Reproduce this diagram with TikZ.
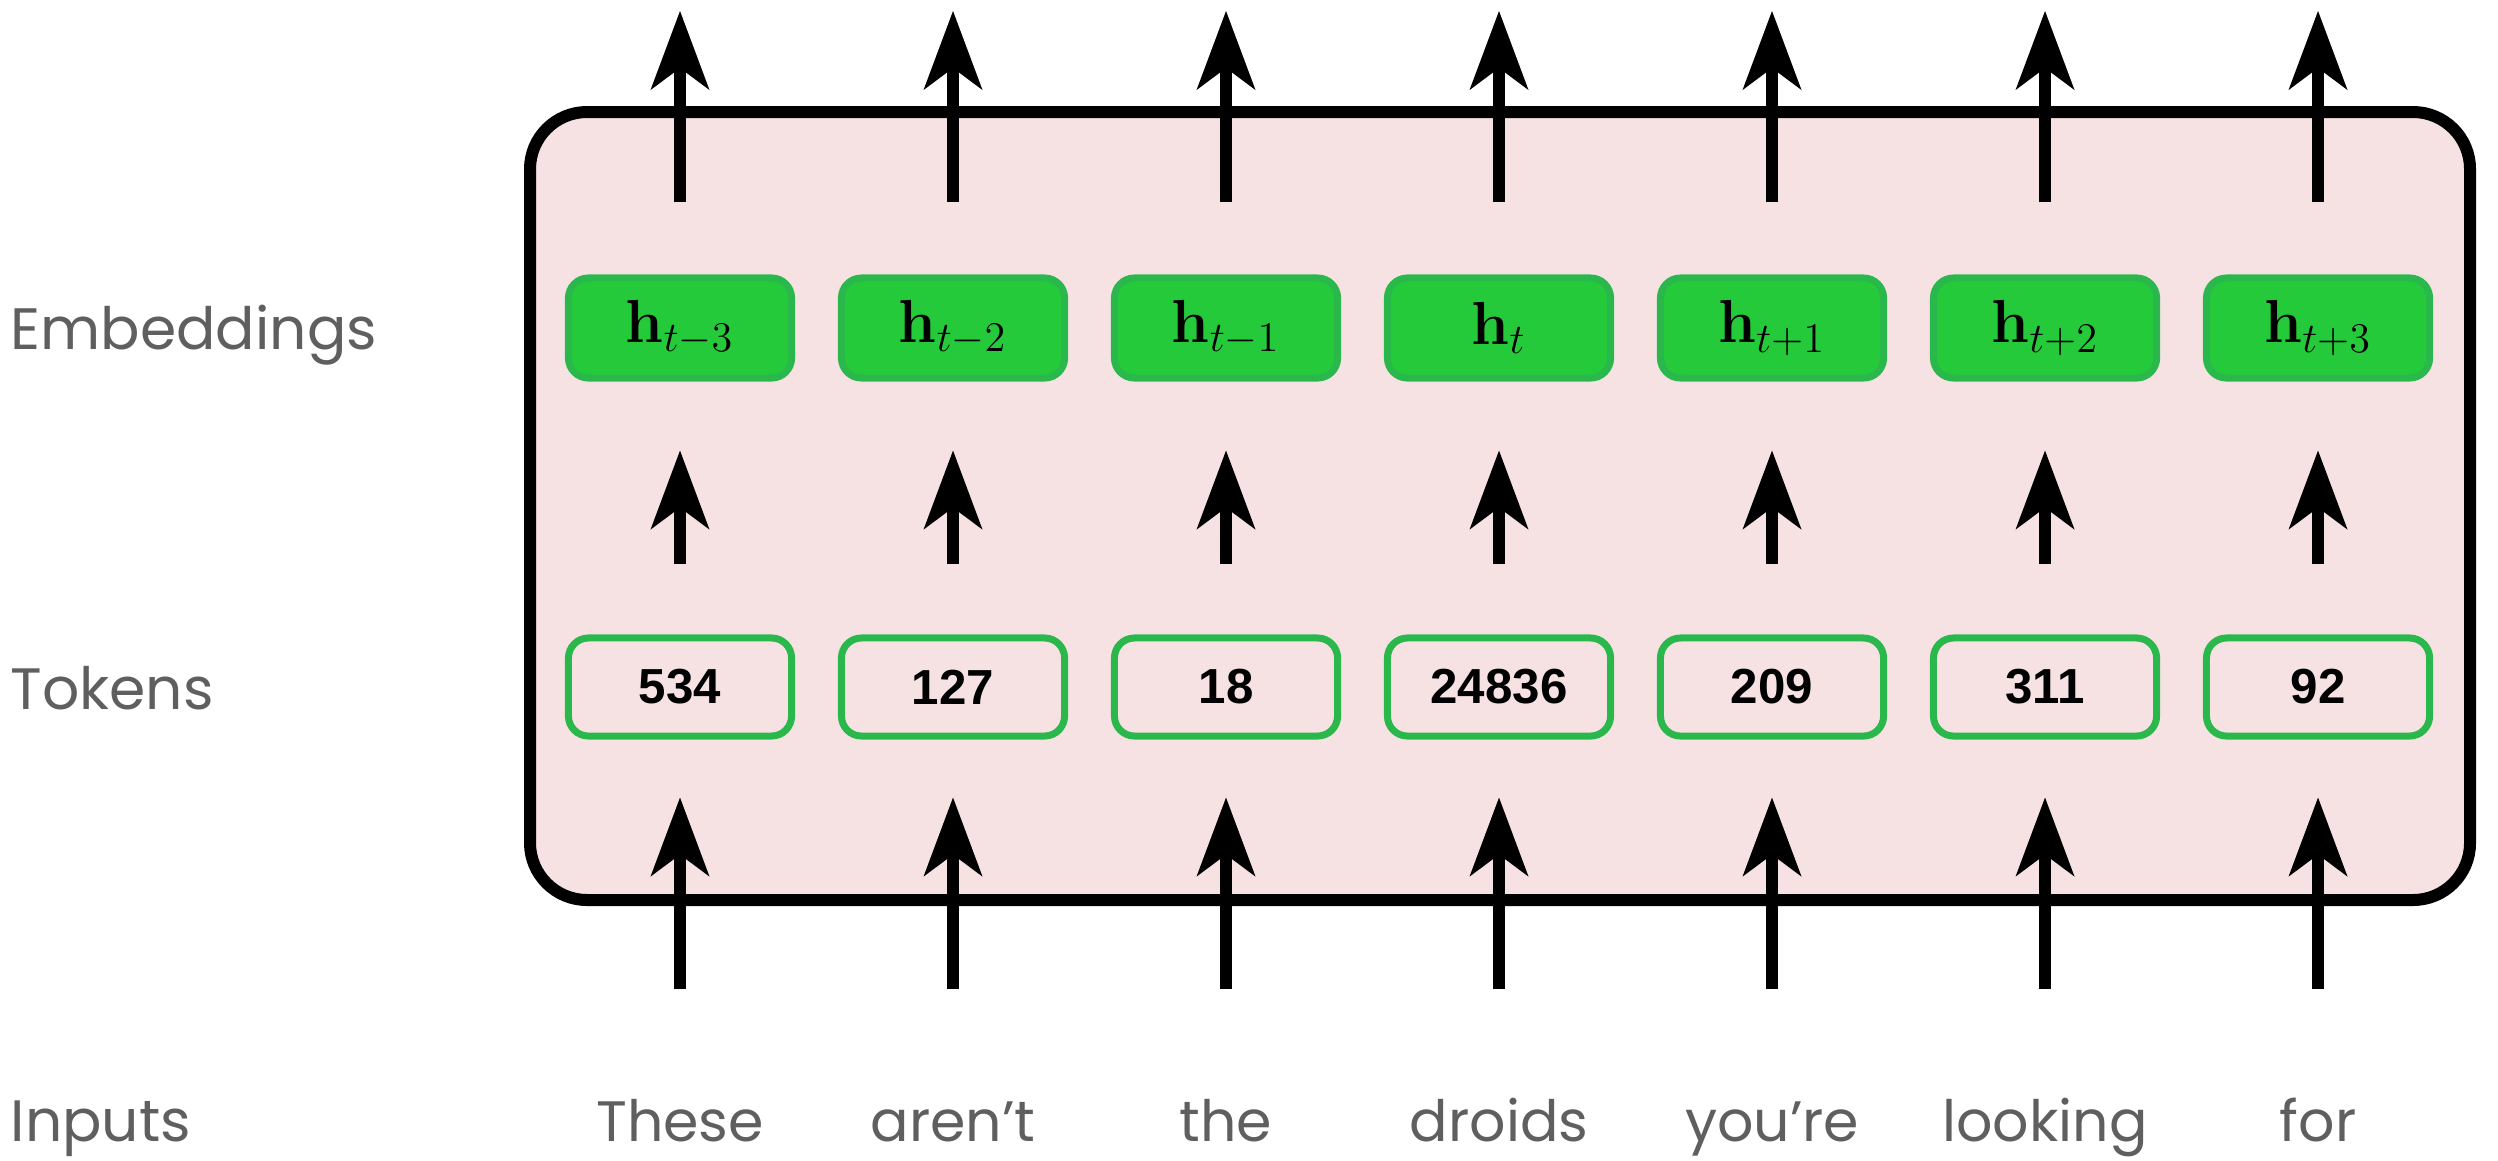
\documentclass[tikz,border=0pt]{standalone}
\usepackage[no-math]{fontspec}
\setmainfont{Poppins}
\newfontfamily\numfont{Liberation Sans}
\definecolor{EPink}{HTML}{F6E2E3}
\definecolor{EGreen}{HTML}{25CA3B}
\definecolor{EGreenRule}{HTML}{2AB74B}
\definecolor{EGray}{HTML}{5F5F5F}
\usetikzlibrary{arrows.meta,positioning,calc}

\tikzset{
  uparrow/.style={line width=0.12cm,
    -{Stealth[length=0.79cm,width=0.59cm,inset=0.22cm,line width=0pt]}},
  embbox/.style={rectangle,rounded corners=0.2cm,fill=EGreen,draw=EGreenRule,
    line width=0.07cm,minimum width=2.23cm,minimum height=1.0cm,inner sep=0pt,
    font=\fontsize{17}{20}\selectfont},
  tokbox/.style={rectangle,rounded corners=0.2cm,draw=EGreenRule,
    line width=0.07cm,minimum width=2.23cm,minimum height=0.98cm,inner sep=0pt,
    font=\numfont\bfseries\fontsize{14}{16}\selectfont},
  rowlabel/.style={anchor=base west,inner sep=0pt,text=EGray,
    font=\fontsize{16.6}{20}\selectfont},
  wordlabel/.style={anchor=base,inner sep=0pt,text=EGray,
    font=\fontsize{16.2}{20}\selectfont}
}

\begin{document}
\begin{tikzpicture}[x=0.01cm,y=-0.01cm]
  \useasboundingbox (0,0) rectangle (2498,1160);
  \draw[fill=EPink,line width=0.12cm,rounded corners=0.57cm] (530,112) rectangle (2470,900);

  \node[rowlabel] (lblemb) at (10,349) {Embeddings};
  \node[rowlabel] (lbltok) at (10,709) {Tokens};
  \node[rowlabel] (lblin)  at (10,1141) {Inputs};

  \foreach \sub/\tok/\word [count=\i from 0] in
      {{t-3}/534/These, {t-2}/127/aren’t, {t-1}/18/the, t/24836/droids,
       {t+1}/209/you’re, {t+2}/311/looking, {t+3}/92/for}{
    \pgfmathsetmacro\x{680+273*\i}
    \node[tokbox] (tok\i) at (\x,687) {\tok};
    \node[embbox] (emb\i) at (\x,328) {$\mathbf{h}_{\sub}$};
    \node[wordlabel] (word\i) at (\x,1141) {\word};
    \coordinate (in\i) at (\x,989);
    \coordinate (out\i) at (\x,11);
    \draw[uparrow,shorten >=0.58cm] (in\i) -- (tok\i.south);
    \draw[uparrow,shorten <=0.70cm,shorten >=0.69cm] (tok\i.north) -- (emb\i.south);
    \draw[uparrow,shorten <=0.72cm] (emb\i.north) -- (out\i);
  }
\end{tikzpicture}
\end{document}
